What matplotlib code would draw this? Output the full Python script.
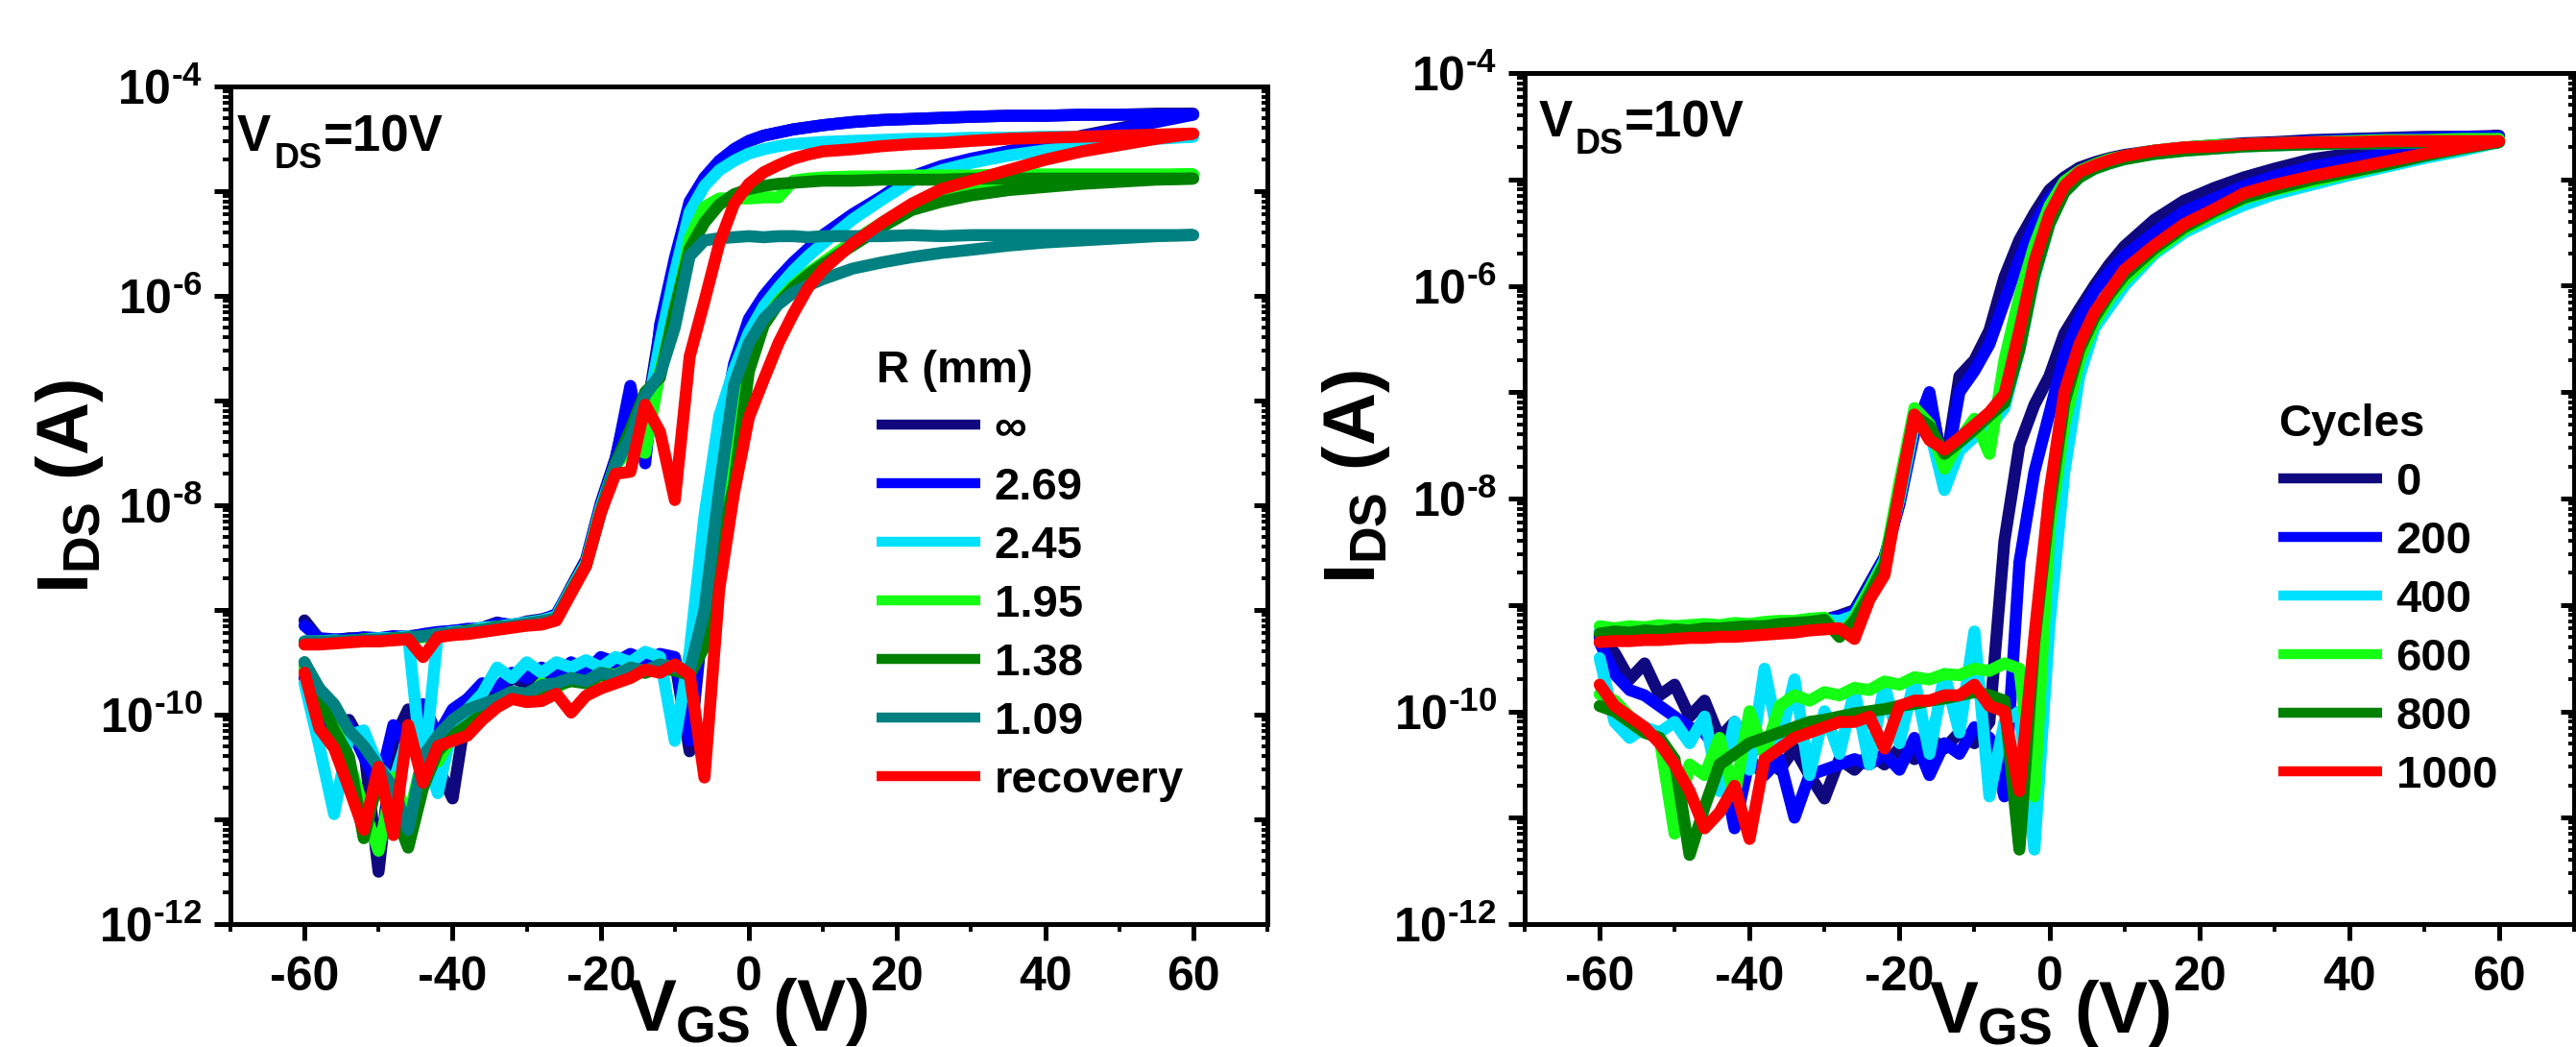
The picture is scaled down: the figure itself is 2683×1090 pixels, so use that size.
import numpy as np
import matplotlib
matplotlib.use('Agg')
import matplotlib.pyplot as plt
from matplotlib.ticker import FixedLocator, FuncFormatter, NullFormatter

plt.rcParams['font.family'] = ['Liberation Sans', 'DejaVu Sans']
plt.rcParams['font.weight'] = 'bold'
plt.rcParams['axes.labelweight'] = 'bold'
plt.rcParams['mathtext.fontset'] = 'custom'
plt.rcParams['mathtext.rm'] = 'Liberation Sans:bold'
plt.rcParams['mathtext.it'] = 'Liberation Sans:bold'
plt.rcParams['mathtext.bf'] = 'Liberation Sans:bold'
plt.rcParams['mathtext.sf'] = 'Liberation Sans:bold'
plt.rcParams['axes.unicode_minus'] = False

# ---------------- data (log10 of I_DS in A) ----------------
V = [-60, -58, -56, -54, -52, -50, -48, -46, -44, -42,
     -40, -38, -36, -34, -32, -30, -28, -26, -24, -22,
     -20, -18, -16, -14, -12, -10, -8, -6, -4, -2,
     0, 2, 4, 6, 8, 10,
     14, 18, 22, 26, 30, 35, 40, 45, 50, 55, 60]

x_major = [-60, -40, -20, 0, 20, 40, 60]
x_minor = [-70, -50, -30, -10, 10, 30, 50, 70]

# Left panel: bending radius R (mm)
left_labels = ['\u221e', '2.69', '2.45', '1.95', '1.38', '1.09', 'recovery']

inf_fwd = [-9.10, -9.28, -9.29, -9.27, -9.27, -9.28, -9.26, -9.25, -9.24, -9.22,
           -9.20, -9.19, -9.17, -9.12, -9.15, -9.11, -9.09, -9.05, -8.78, -8.52,
           -7.98, -7.55, -6.95, -7.20, -6.32, -5.68, -5.12, -4.88, -4.72, -4.60,
           -4.52, -4.47, -4.44, -4.41, -4.39, -4.37,
           -4.34, -4.32, -4.31, -4.30, -4.29, -4.28, -4.28, -4.27, -4.27, -4.26, -4.26]
inf_rev = [-9.55, -10.05, -10.10, -10.05, -10.30, -11.50, -10.25, -9.95, -10.60, -10.50,
           -10.80, -9.90, -9.75, -9.80, -9.65, -9.70, -9.60, -9.65, -9.55, -9.65,
           -9.50, -9.55, -9.45, -9.50, -9.45, -9.48, -10.35, -8.95, -7.45, -6.70,
           -6.28, -6.02, -5.85, -5.70, -5.57, -5.45,
           -5.24, -5.07, -4.87, -4.77, -4.70, -4.62, -4.55, -4.47, -4.40, -4.33, -4.26]

r269_fwd = [-9.15, -9.27, -9.28, -9.28, -9.26, -9.27, -9.25, -9.26, -9.23, -9.21,
            -9.20, -9.18, -9.18, -9.13, -9.14, -9.12, -9.10, -9.04, -8.80, -8.54,
            -8.00, -7.57, -6.86, -7.60, -6.28, -5.64, -5.10, -4.87, -4.71, -4.60,
            -4.52, -4.47, -4.44, -4.41, -4.39, -4.37,
            -4.34, -4.32, -4.31, -4.30, -4.29, -4.28, -4.28, -4.27, -4.27, -4.27, -4.27]
r269_rev = [-9.65, -10.00, -10.15, -10.10, -10.40, -10.70, -10.10, -10.30, -9.90, -10.20,
            -9.95, -9.85, -9.70, -9.75, -9.60, -9.65, -9.55, -9.62, -9.50, -9.60,
            -9.45, -9.50, -9.42, -9.48, -9.42, -9.45, -10.25, -8.90, -7.40, -6.65,
            -6.22, -6.00, -5.83, -5.68, -5.55, -5.42,
            -5.22, -5.05, -4.86, -4.76, -4.69, -4.62, -4.55, -4.48, -4.41, -4.34, -4.27]

r245_fwd = [-9.30, -9.30, -9.29, -9.30, -9.28, -9.27, -9.27, -9.25, -10.60, -9.23,
            -9.21, -9.20, -9.17, -9.16, -9.14, -9.12, -9.10, -9.06, -8.80, -8.55,
            -8.02, -7.60, -7.30, -7.20, -6.45, -5.78, -5.20, -4.95, -4.80, -4.71,
            -4.64, -4.60, -4.57, -4.55, -4.54, -4.53,
            -4.52, -4.51, -4.50, -4.50, -4.49, -4.49, -4.48, -4.48, -4.48, -4.48, -4.48]
r245_rev = [-9.70, -10.30, -10.95, -10.20, -10.15, -10.50, -10.65, -10.20, -10.30, -10.75,
            -10.10, -9.95, -9.80, -9.55, -9.65, -9.50, -9.60, -9.50, -9.55, -9.48,
            -9.55, -9.45, -9.50, -9.40, -9.45, -10.25, -9.40, -8.10, -7.15, -6.70,
            -6.35, -6.10, -5.92, -5.76, -5.62, -5.50,
            -5.27, -5.08, -4.90, -4.80, -4.73, -4.66, -4.61, -4.57, -4.53, -4.50, -4.48]

r195_fwd = [-9.33, -9.30, -9.32, -9.30, -9.29, -9.30, -9.28, -9.27, -9.26, -9.24,
            -9.22, -9.22, -9.19, -9.17, -9.16, -9.14, -9.12, -9.09, -8.82, -8.57,
            -8.05, -7.62, -7.45, -7.50, -6.72, -6.18, -5.45, -5.15, -5.07, -5.07,
            -5.07, -5.06, -5.06, -4.90, -4.88, -4.87,
            -4.86, -4.86, -4.85, -4.85, -4.85, -4.84, -4.84, -4.84, -4.84, -4.84, -4.84]
r195_rev = [-9.55, -9.75, -10.10, -10.45, -10.90, -11.30, -10.60, -11.00, -10.40, -10.45,
            -10.20, -10.15, -9.95, -9.90, -9.80, -9.85, -9.70, -9.75, -9.65, -9.70,
            -9.60, -9.62, -9.55, -9.60, -9.52, -9.55, -9.60, -9.30, -8.40, -7.30,
            -6.70, -6.25, -6.05, -5.90, -5.78, -5.68,
            -5.48, -5.30, -5.13, -5.05, -5.00, -4.95, -4.92, -4.89, -4.87, -4.85, -4.84]

r138_fwd = [-9.31, -9.31, -9.30, -9.30, -9.28, -9.29, -9.27, -9.27, -9.25, -9.23,
            -9.22, -9.20, -9.19, -9.16, -9.16, -9.13, -9.11, -9.08, -8.82, -8.58,
            -8.06, -7.60, -7.28, -6.92, -6.78, -6.12, -5.55, -5.30, -5.13, -5.03,
            -4.98, -4.95, -4.93, -4.92, -4.91, -4.90,
            -4.90, -4.89, -4.89, -4.89, -4.88, -4.88, -4.88, -4.88, -4.88, -4.88, -4.88]
r138_rev = [-9.50, -9.80, -10.15, -10.40, -11.18, -10.60, -10.90, -11.27, -10.70, -10.35,
            -10.20, -10.10, -10.00, -9.90, -9.85, -9.80, -9.75, -9.72, -9.68, -9.70,
            -9.62, -9.66, -9.58, -9.60, -9.55, -9.58, -9.62, -9.35, -8.45, -7.80,
            -6.72, -6.28, -6.07, -5.92, -5.80, -5.70,
            -5.52, -5.34, -5.18, -5.10, -5.04, -4.99, -4.96, -4.93, -4.91, -4.89, -4.88]

r109_fwd = [-9.30, -9.30, -9.30, -9.29, -9.29, -9.28, -9.28, -9.26, -9.25, -9.23,
            -9.22, -9.21, -9.19, -9.17, -9.15, -9.13, -9.11, -9.08, -8.83, -8.58,
            -8.08, -7.62, -7.35, -6.95, -6.75, -6.30, -5.62, -5.47, -5.45, -5.44,
            -5.43, -5.44, -5.43, -5.43, -5.44, -5.43,
            -5.43, -5.43, -5.42, -5.43, -5.42, -5.42, -5.42, -5.42, -5.42, -5.42, -5.42]
r109_rev = [-9.50, -9.75, -9.90, -10.15, -10.30, -10.50, -10.70, -11.10, -10.40, -10.20,
            -10.05, -9.95, -9.90, -9.85, -9.78, -9.80, -9.72, -9.70, -9.65, -9.68,
            -9.60, -9.63, -9.55, -9.58, -9.52, -9.55, -9.58, -9.00, -7.85, -6.85,
            -6.45, -6.22, -6.08, -5.97, -5.90, -5.84,
            -5.74, -5.68, -5.63, -5.59, -5.56, -5.52, -5.49, -5.47, -5.45, -5.43, -5.42]

rec_fwd = [-9.33, -9.33, -9.32, -9.31, -9.30, -9.30, -9.29, -9.28, -9.45, -9.26,
           -9.24, -9.23, -9.21, -9.19, -9.17, -9.15, -9.14, -9.10, -8.84, -8.58,
           -8.07, -7.70, -7.68, -7.04, -7.30, -7.95, -6.58, -6.05, -5.50, -5.12,
           -4.93, -4.82, -4.75, -4.69, -4.65, -4.62,
           -4.60, -4.57, -4.55, -4.54, -4.52, -4.50, -4.49, -4.48, -4.47, -4.46, -4.45]
rec_rev = [-9.60, -10.13, -10.32, -10.70, -11.10, -10.50, -11.15, -10.10, -10.65, -10.30,
           -10.25, -10.20, -10.05, -9.93, -9.85, -9.88, -9.87, -9.80, -9.98, -9.82,
           -9.75, -9.70, -9.65, -9.57, -9.60, -9.52, -9.62, -10.60, -8.80, -7.88,
           -7.16, -6.80, -6.45, -6.17, -5.92, -5.75,
           -5.50, -5.30, -5.12, -4.98, -4.90, -4.80, -4.70, -4.62, -4.56, -4.50, -4.45]

# Right panel: bending cycles
right_labels = ['0', '200', '400', '600', '800', '1000']

c0_fwd = [-9.28, -9.22, -9.26, -9.25, -9.24, -9.25, -9.23, -9.24, -9.22, -9.23,
          -9.21, -9.20, -9.20, -9.18, -9.16, -9.14, -9.10, -9.05, -8.80, -8.55,
          -8.05, -7.32, -7.05, -7.75, -6.85, -6.70, -6.42, -5.92, -5.57, -5.32,
          -5.10, -4.98, -4.89, -4.84, -4.80, -4.77,
          -4.73, -4.70, -4.68, -4.66, -4.65, -4.63, -4.62, -4.61, -4.60, -4.60, -4.59]
c0_rev = [-9.30, -9.45, -9.70, -9.55, -9.85, -9.75, -10.05, -9.90, -10.25, -10.10,
          -10.40, -10.30, -10.55, -10.35, -10.60, -10.82, -10.45, -10.55, -10.40, -10.50,
          -10.35, -10.45, -10.25, -10.35, -10.20, -10.30, -10.10, -8.40, -7.50, -7.12,
          -6.85, -6.45, -6.22, -6.00, -5.80, -5.63,
          -5.38, -5.20, -5.08, -4.98, -4.90, -4.81, -4.76, -4.72, -4.67, -4.63, -4.59]

c200_fwd = [-9.30, -9.26, -9.27, -9.26, -9.26, -9.25, -9.25, -9.24, -9.23, -9.24,
            -9.22, -9.21, -9.20, -9.19, -9.17, -9.15, -9.11, -9.07, -8.82, -8.56,
            -8.05, -7.38, -7.00, -7.80, -7.00, -6.80, -6.55, -6.15, -5.75, -5.42,
            -5.18, -5.03, -4.93, -4.87, -4.82, -4.79,
            -4.74, -4.71, -4.69, -4.67, -4.66, -4.64, -4.63, -4.62, -4.61, -4.60, -4.60]
c200_rev = [-9.35, -9.65, -9.80, -9.85, -9.95, -10.05, -10.15, -10.20, -10.40, -11.10,
            -10.45, -10.60, -10.45, -11.00, -10.60, -10.55, -10.50, -10.45, -10.50, -10.40,
            -10.55, -10.25, -10.60, -10.30, -10.40, -10.15, -10.25, -10.80, -8.60, -7.75,
            -7.20, -6.65, -6.30, -6.05, -5.87, -5.72,
            -5.50, -5.30, -5.18, -5.06, -4.97, -4.88, -4.82, -4.76, -4.70, -4.65, -4.60]

c400_fwd = [-9.25, -9.27, -9.25, -9.24, -9.26, -9.24, -9.23, -9.25, -9.22, -9.23,
            -9.21, -9.19, -9.20, -9.18, -9.16, -9.14, -9.15, -9.10, -8.85, -8.58,
            -8.00, -7.30, -7.35, -7.92, -7.55, -7.42, -7.33, -7.15, -6.60, -5.92,
            -5.42, -5.12, -4.98, -4.90, -4.85, -4.81,
            -4.76, -4.73, -4.71, -4.69, -4.68, -4.67, -4.66, -4.66, -4.65, -4.65, -4.65]
c400_rev = [-9.50, -10.10, -10.25, -10.15, -10.20, -10.10, -10.30, -10.05, -10.75, -10.10,
            -10.55, -9.60, -10.30, -9.70, -10.60, -10.00, -10.40, -9.80, -10.50, -9.75,
            -10.30, -9.70, -10.40, -9.65, -10.20, -9.25, -10.80, -10.10, -10.00, -11.30,
            -9.20, -7.75, -6.85, -6.40, -6.20, -6.00,
            -5.70, -5.50, -5.36, -5.24, -5.14, -5.05, -4.96, -4.88, -4.80, -4.73, -4.65]

c600_fwd = [-9.20, -9.22, -9.20, -9.21, -9.19, -9.20, -9.19, -9.18, -9.19, -9.17,
            -9.18, -9.16, -9.15, -9.15, -9.13, -9.12, -9.30, -9.12, -8.85, -8.60,
            -7.85, -7.15, -7.30, -7.72, -7.45, -7.25, -7.58, -6.70, -6.10, -5.62,
            -5.25, -5.02, -4.92, -4.86, -4.81, -4.78,
            -4.73, -4.70, -4.68, -4.67, -4.66, -4.65, -4.64, -4.63, -4.63, -4.62, -4.62]
c600_rev = [-9.84, -9.90, -10.05, -10.20, -10.25, -11.15, -10.50, -10.60, -10.25, -10.80,
            -10.00, -10.40, -9.95, -9.85, -9.90, -9.82, -9.85, -9.78, -9.80, -9.72,
            -9.75, -9.68, -9.70, -9.65, -9.66, -9.60, -9.62, -9.55, -9.60, -10.80,
            -8.30, -7.30, -6.70, -6.35, -6.12, -5.95,
            -5.68, -5.47, -5.32, -5.18, -5.10, -5.02, -4.94, -4.86, -4.77, -4.70, -4.62]

c800_fwd = [-9.27, -9.25, -9.26, -9.24, -9.25, -9.23, -9.24, -9.22, -9.22, -9.21,
            -9.20, -9.20, -9.18, -9.17, -9.16, -9.14, -9.30, -9.15, -8.90, -8.62,
            -7.95, -7.22, -7.32, -7.58, -7.47, -7.35, -7.22, -7.10, -6.60, -5.90,
            -5.42, -5.12, -4.98, -4.90, -4.85, -4.81,
            -4.76, -4.73, -4.71, -4.69, -4.68, -4.67, -4.66, -4.66, -4.65, -4.65, -4.65]
c800_rev = [-9.95, -10.00, -10.10, -10.20, -10.25, -10.45, -11.35, -10.90, -10.50, -10.40,
            -10.30, -10.25, -10.20, -10.15, -10.10, -10.08, -10.05, -10.02, -10.00, -9.98,
            -9.95, -9.93, -9.90, -9.88, -9.85, -9.82, -9.85, -9.90, -11.30, -9.35,
            -8.10, -7.10, -6.60, -6.30, -6.08, -5.90,
            -5.65, -5.45, -5.30, -5.17, -5.09, -5.00, -4.93, -4.86, -4.78, -4.71, -4.65]

c1000_fwd = [-9.35, -9.34, -9.34, -9.33, -9.33, -9.32, -9.31, -9.31, -9.30, -9.30,
             -9.29, -9.28, -9.27, -9.26, -9.24, -9.23, -9.22, -9.32, -8.95, -8.72,
             -7.93, -7.21, -7.45, -7.54, -7.43, -7.31, -7.19, -7.02, -6.42, -5.77,
             -5.33, -5.06, -4.93, -4.87, -4.82, -4.78,
             -4.73, -4.70, -4.69, -4.67, -4.66, -4.65, -4.65, -4.64, -4.64, -4.64, -4.64]
c1000_rev = [-9.75, -9.95, -10.05, -10.15, -10.30, -10.50, -10.75, -11.10, -10.95, -10.70,
             -11.20, -10.45, -10.35, -10.25, -10.20, -10.15, -10.10, -10.10, -10.05, -10.35,
             -9.95, -9.90, -9.90, -9.85, -9.85, -9.75, -9.95, -10.00, -10.75, -9.30,
             -7.95, -7.00, -6.55, -6.25, -6.05, -5.85,
             -5.62, -5.42, -5.28, -5.13, -5.05, -4.97, -4.90, -4.83, -4.76, -4.70, -4.64]

left_series = [(inf_fwd, inf_rev), (r269_fwd, r269_rev), (r245_fwd, r245_rev),
               (r195_fwd, r195_rev), (r138_fwd, r138_rev), (r109_fwd, r109_rev),
               (rec_fwd, rec_rev)]
right_series = [(c0_fwd, c0_rev), (c200_fwd, c200_rev), (c400_fwd, c400_rev),
                (c600_fwd, c600_rev), (c800_fwd, c800_rev), (c1000_fwd, c1000_rev)]

left_colors = ['#10087f', '#0000ff', '#00e1ff', '#14ff14', '#008000', '#008080', '#ff0000']
right_colors = ['#10087f', '#0000ff', '#00e1ff', '#14ff14', '#008000', '#ff0000']

# ---------------- figure ----------------
W, H = 2683, 1090
fig = plt.figure(figsize=(W / 100, H / 100), dpi=100)


def rect(l, r, t, b):
    return [l / W, 1 - b / H, (r - l) / W, (b - t) / H]


def yfmt(v, pos):
    e = int(round(np.log10(v)))
    if e % 2:
        return ''
    return r'$10^{\text{-%d}}$' % (-e)


y_major = [10.0 ** e for e in range(-12, -3)]
y_minor = [m * 10.0 ** e for e in range(-12, -4) for m in range(2, 10)]


def style(ax):
    ax.set_xlim(-70, 70)
    ax.set_yscale('log')
    ax.set_ylim(1e-12, 1e-4)
    ax.xaxis.set_major_locator(FixedLocator(x_major))
    ax.xaxis.set_minor_locator(FixedLocator(x_minor))
    ax.yaxis.set_major_locator(FixedLocator(y_major))
    ax.yaxis.set_minor_locator(FixedLocator(y_minor))
    ax.yaxis.set_major_formatter(FuncFormatter(yfmt))
    ax.yaxis.set_minor_formatter(NullFormatter())
    ax.tick_params(which='major', direction='out', length=12, width=3.6,
                   labelsize=36, top=False, right=False)
    ax.tick_params(which='minor', direction='out', length=5.5, width=2.8,
                   top=False, right=False)
    ax.tick_params(axis='x', which='major', pad=12)
    ax.tick_params(axis='y', which='major', pad=9)
    for s in ax.spines.values():
        s.set_linewidth(3.6)
    tw = ax.twinx()
    tw.set_yscale('log')
    tw.set_ylim(1e-12, 1e-4)
    tw.yaxis.set_major_locator(FixedLocator(y_major))
    tw.yaxis.set_minor_locator(FixedLocator(y_minor))
    tw.yaxis.set_major_formatter(NullFormatter())
    tw.yaxis.set_minor_formatter(NullFormatter())
    tw.tick_params(which='major', direction='in', length=10, width=3.6)
    tw.tick_params(which='minor', direction='in', length=4.5, width=2.8)
    for s in tw.spines.values():
        s.set_visible(False)


def draw(ax, series, colors, labels):
    Varr = np.array(V, dtype=float)
    lines = []
    for (fwd, rev), c, lab in zip(series, colors, labels):
        x = np.concatenate([Varr, Varr[::-1]])
        y = 10.0 ** np.concatenate([np.array(fwd), np.array(rev)[::-1]])
        ln, = ax.plot(x, y, color=c, lw=9, solid_capstyle='round',
                      solid_joinstyle='round', label=lab)
        lines.append(ln)
    return lines


def vds_text(ax, x, y):
    t1 = ax.text(x, y, 'V', transform=ax.transAxes, fontsize=38,
                 fontweight='bold', va='baseline', ha='left')
    t2 = ax.annotate('DS', xy=(1, 0), xycoords=t1, xytext=(3, -7),
                     textcoords='offset pixels', fontsize=26, fontweight='bold',
                     va='baseline', ha='left')
    ax.annotate('=10V', xy=(1, 0), xycoords=(t2, t1), xytext=(1, 0),
                textcoords='offset pixels', fontsize=38, fontweight='bold',
                va='bottom', ha='left')


axL = fig.add_axes(rect(240, 1320, 90, 962))
axR = fig.add_axes(rect(1588, 2681, 76, 962))

for ax, series, colors, labels, title, lx, ly in [
        (axL, left_series, left_colors, left_labels, 'R (mm)', 0.623, 0.686),
        (axR, right_series, right_colors, right_labels, 'Cycles', 0.718, 0.612)]:
    lines = draw(ax, series, colors, labels)
    style(ax)
    leg = ax.legend(handles=lines, loc='upper left', bbox_to_anchor=(lx, ly),
                    frameon=False, fontsize=34, title=title, title_fontsize=34,
                    borderpad=0, borderaxespad=0, handlelength=2.3,
                    handletextpad=0.3, labelspacing=0.36, alignment='left')
    plt.setp(leg.get_title(), fontweight='bold')
    for h in leg.legend_handles:
        h.set_solid_capstyle('butt')
        h.set_linewidth(7.5)
    ax.set_xlabel(r'$V_{GS}$ (V)', fontsize=55, fontweight='bold', va='baseline')

axL.xaxis.set_label_coords(0.499, -0.127)
axR.xaxis.set_label_coords(0.50, -0.127)

axL.set_ylabel(r'$I_{DS}$ (A)', fontsize=55, fontweight='bold', va='baseline',
               ha='center', rotation=90, rotation_mode='anchor')
axL.yaxis.set_label_coords(-0.137, 0.522)
axR.set_ylabel(r'$I_{DS}$ (A)', fontsize=55, fontweight='bold', va='baseline',
               ha='center', rotation=90, rotation_mode='anchor')
axR.yaxis.set_label_coords(-0.1427, 0.525)

vds_text(axL, 0.0065, 0.923)
vds_text(axR, 0.0137, 0.925)

fig.savefig('out.png', dpi=100)
